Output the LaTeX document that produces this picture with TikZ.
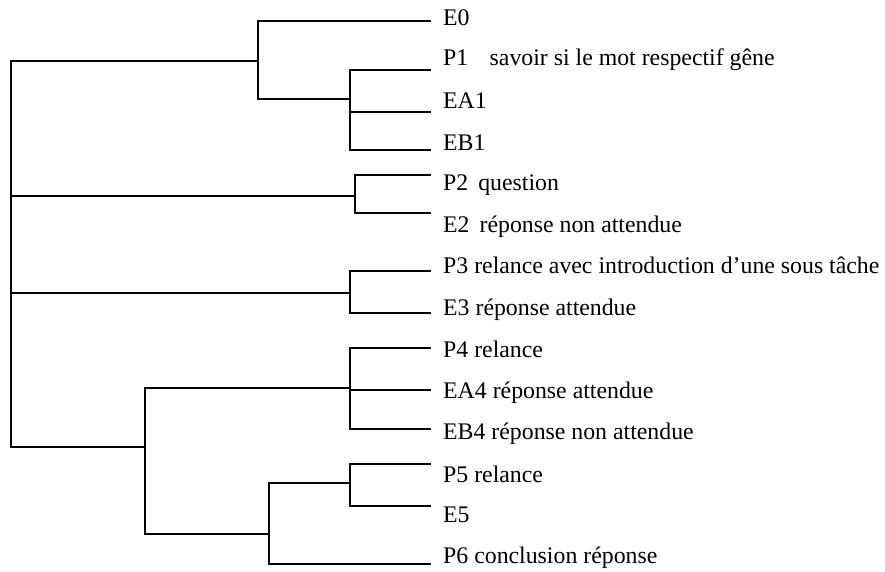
\documentclass[tikz,border=0pt]{standalone}
\usepackage{fontspec}
\setmainfont{Liberation Serif}
\begin{document}
\begin{tikzpicture}[x=1pt,y=-1pt,
  br/.style={line width=1.4pt, line cap=rect},
  lab/.style={anchor=base west, inner sep=0pt, font=\fontsize{23.8}{24}\selectfont}]
\useasboundingbox (0,0) rectangle (885,571);
% leaf line ends
\foreach \n/\y in {e0/21,p1/70,ea1/112,eb1/150,p2/175,e2/213,p3/271,e3/313,p4/348,ea4/390,eb4/429,p5/464,e5/506,p6/564}
  \coordinate (\n) at (430,\y);
% labels
\node[lab] (te0)  at (443,25)  {E0};
\node[lab] (tp1)  at (443,65)  {P1\hspace{0.9em}savoir si le mot respectif gêne};
\node[lab] (tea1) at (443,108) {EA1};
\node[lab] (teb1) at (443,150) {EB1};
\node[lab] (tp2)  at (443,190) {P2\hspace{0.42em}question};
\node[lab] (te2)  at (443,232) {E2\hspace{0.42em}réponse non attendue};
\node[lab] (tp3)  at (443,273) {P3 relance avec introduction d’une sous tâche};
\node[lab] (te3)  at (443,315) {E3 réponse attendue};
\node[lab] (tp4)  at (443,357) {P4 relance};
\node[lab] (tea4) at (443,398) {EA4 réponse attendue};
\node[lab] (teb4) at (443,439) {EB4 réponse non attendue};
\node[lab] (tp5)  at (443,482) {P5 relance};
\node[lab] (te5)  at (443,522) {E5};
\node[lab] (tp6)  at (443,563) {P6 conclusion réponse};
% junction verticals
\coordinate (rt) at (11,61);  \coordinate (rb) at (11,447);
\coordinate (ja) at (258,0);  % E0 group
\coordinate (jb) at (350,0);  % P1 EA1 EB1
\coordinate (jc) at (355,0);  % P2 E2
\coordinate (jd) at (350,0);  % P3 E3
\coordinate (jg) at (145,0);  % lower group
\coordinate (jf) at (350,0);  % P4 EA4 EB4
\coordinate (jh) at (269,0);  % P5 E5 P6
\coordinate (ji) at (350,0);  % P5 E5
\coordinate (ma) at (0,99);
\coordinate (mc) at (0,196);
\coordinate (md) at (0,293);
\coordinate (mf) at (0,388);
\coordinate (mh) at (0,534);
\coordinate (mi) at (0,483);
% root
\draw[br] (rt) -- (rb);
\draw[br] (rt) -- (rt -| ja);
\draw[br] (rt |- mc) -- (mc -| jc);
\draw[br] (rt |- md) -- (md -| jd);
\draw[br] (rb) -- (rb -| jg);
% group A
\draw[br] (e0) -- (e0 -| ja) -- (ma -| ja) -- (ma -| jb);
% group B
\draw[br] (p1) -- (p1 -| jb) -- (eb1 -| jb) -- (eb1);
\draw[br] (ea1 -| jb) -- (ea1);
% group C
\draw[br] (p2) -- (p2 -| jc) -- (e2 -| jc) -- (e2);
% group D
\draw[br] (p3) -- (p3 -| jd) -- (e3 -| jd) -- (e3);
% group G
\draw[br] (mf -| jf) -- (mf -| jg) -- (mh -| jg) -- (mh -| jh);
% group F
\draw[br] (p4) -- (p4 -| jf) -- (eb4 -| jf) -- (eb4);
\draw[br] (ea4 -| jf) -- (ea4);
% group H
\draw[br] (mi -| ji) -- (mi -| jh) -- (p6 -| jh) -- (p6);
% group I
\draw[br] (p5) -- (p5 -| ji) -- (e5 -| ji) -- (e5);
\end{tikzpicture}
\end{document}
